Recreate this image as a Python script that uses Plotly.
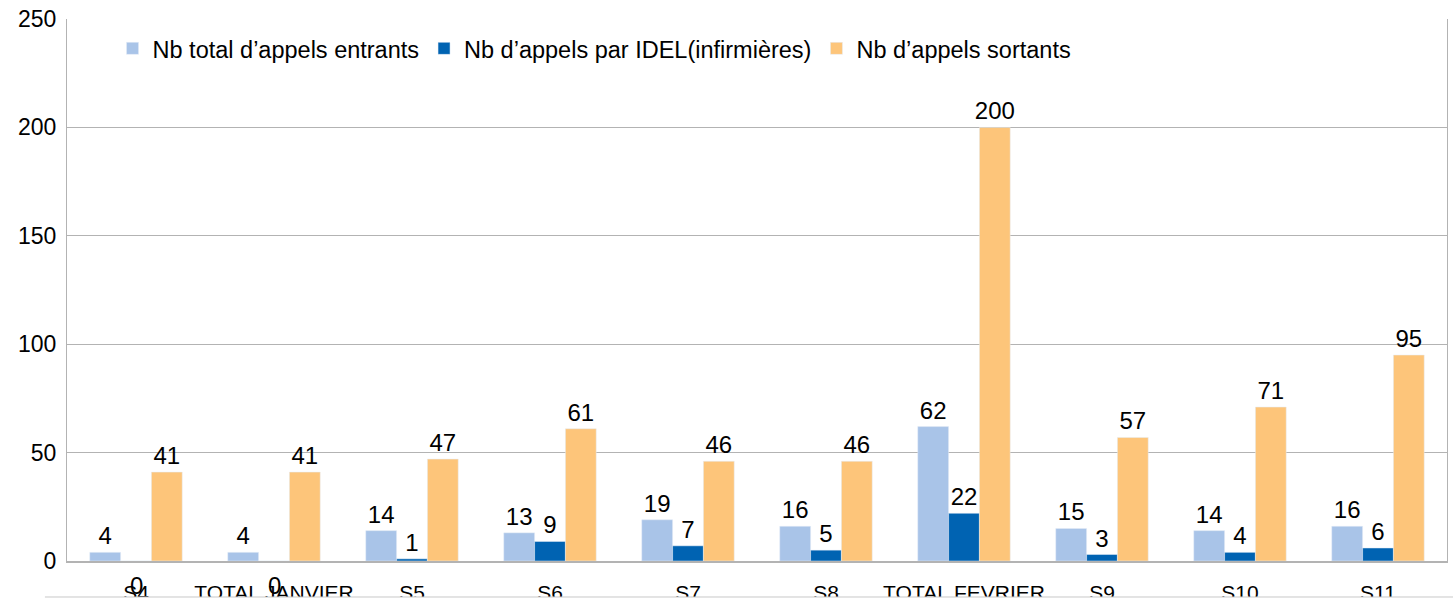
import plotly.graph_objects as go

categories = ["S4", "TOTAL JANVIER", "S5", "S6", "S7", "S8", "TOTAL FEVRIER", "S9", "S10", "S11"]
entrants = [4, 4, 14, 13, 19, 16, 62, 15, 14, 16]
idel = [0, 0, 1, 9, 7, 5, 22, 3, 4, 6]
sortants = [41, 41, 47, 61, 46, 46, 200, 57, 71, 95]
names = ["Nb total d\u2019appels entrants", "Nb d\u2019appels par IDEL(infirmi\u00e8res)", "Nb d\u2019appels sortants"]
colors = ["#A9C4E8", "#0063B2", "#FDC57A"]
y_ticks = [0, 50, 100, 150, 200, 250]

FONT = "Liberation Sans, Arial, sans-serif"

fig = go.Figure()
for vals, name, col in zip([entrants, idel, sortants], names, colors):
    fig.add_trace(go.Bar(
        x=categories, y=vals, name=name, marker_color=col,
        text=[str(v) if v != 0 else "" for v in vals],
        textposition="outside", cliponaxis=False, constraintext="none",
        textfont=dict(family=FONT, size=24, color="#000000"),
    ))

# zero labels drawn below the axis like in the reference
for c, v in zip(categories, idel):
    if v == 0:
        fig.add_annotation(x=c, y=v, text="0", showarrow=False, yanchor="top", yshift=-9,
                           font=dict(family=FONT, size=24, color="#000000"))

fig.update_layout(
    width=1453, height=603,
    margin=dict(l=67, r=6, t=19, b=42, autoexpand=False),
    barmode="group", bargap=0.33, bargroupgap=0,
    plot_bgcolor="white", paper_bgcolor="white",
    font=dict(family=FONT, size=21, color="#000000"),
    legend=dict(orientation="h", x=0.033, y=0.986, xanchor="left", yanchor="top",
                font=dict(family=FONT, size=23.5),
                traceorder="normal", bgcolor="rgba(0,0,0,0)"),
)
fig.update_yaxes(range=[0, 250], tickvals=y_ticks, showgrid=True, gridcolor="#B3B3B3", gridwidth=1,
                 showline=True, linecolor="#B3B3B3", linewidth=1, mirror=True,
                 zeroline=False, ticks="", tickfont=dict(size=23), ticklabelstandoff=5)
fig.update_xaxes(showline=True, linecolor="#B3B3B3", linewidth=2, mirror=False, ticks="",
                 tickfont=dict(size=21), ticklabelstandoff=12, tickangle=0)

fig.add_shape(type="rect", xref="paper", yref="paper", x0=-0.016, x1=1.01, y0=-0.0664, y1=-0.2,
              fillcolor="white", line=dict(width=0), layer="above")
fig.add_shape(type="line", xref="paper", yref="paper", x0=-0.016, x1=1.01, y0=-0.0664, y1=-0.0664,
              line=dict(color="#C8C8C8", width=1), layer="above")

fig.write_html("out.html", config={"displayModeBar": False},
               post_script="document.body.style.margin='0';document.body.style.overflow='hidden';")
